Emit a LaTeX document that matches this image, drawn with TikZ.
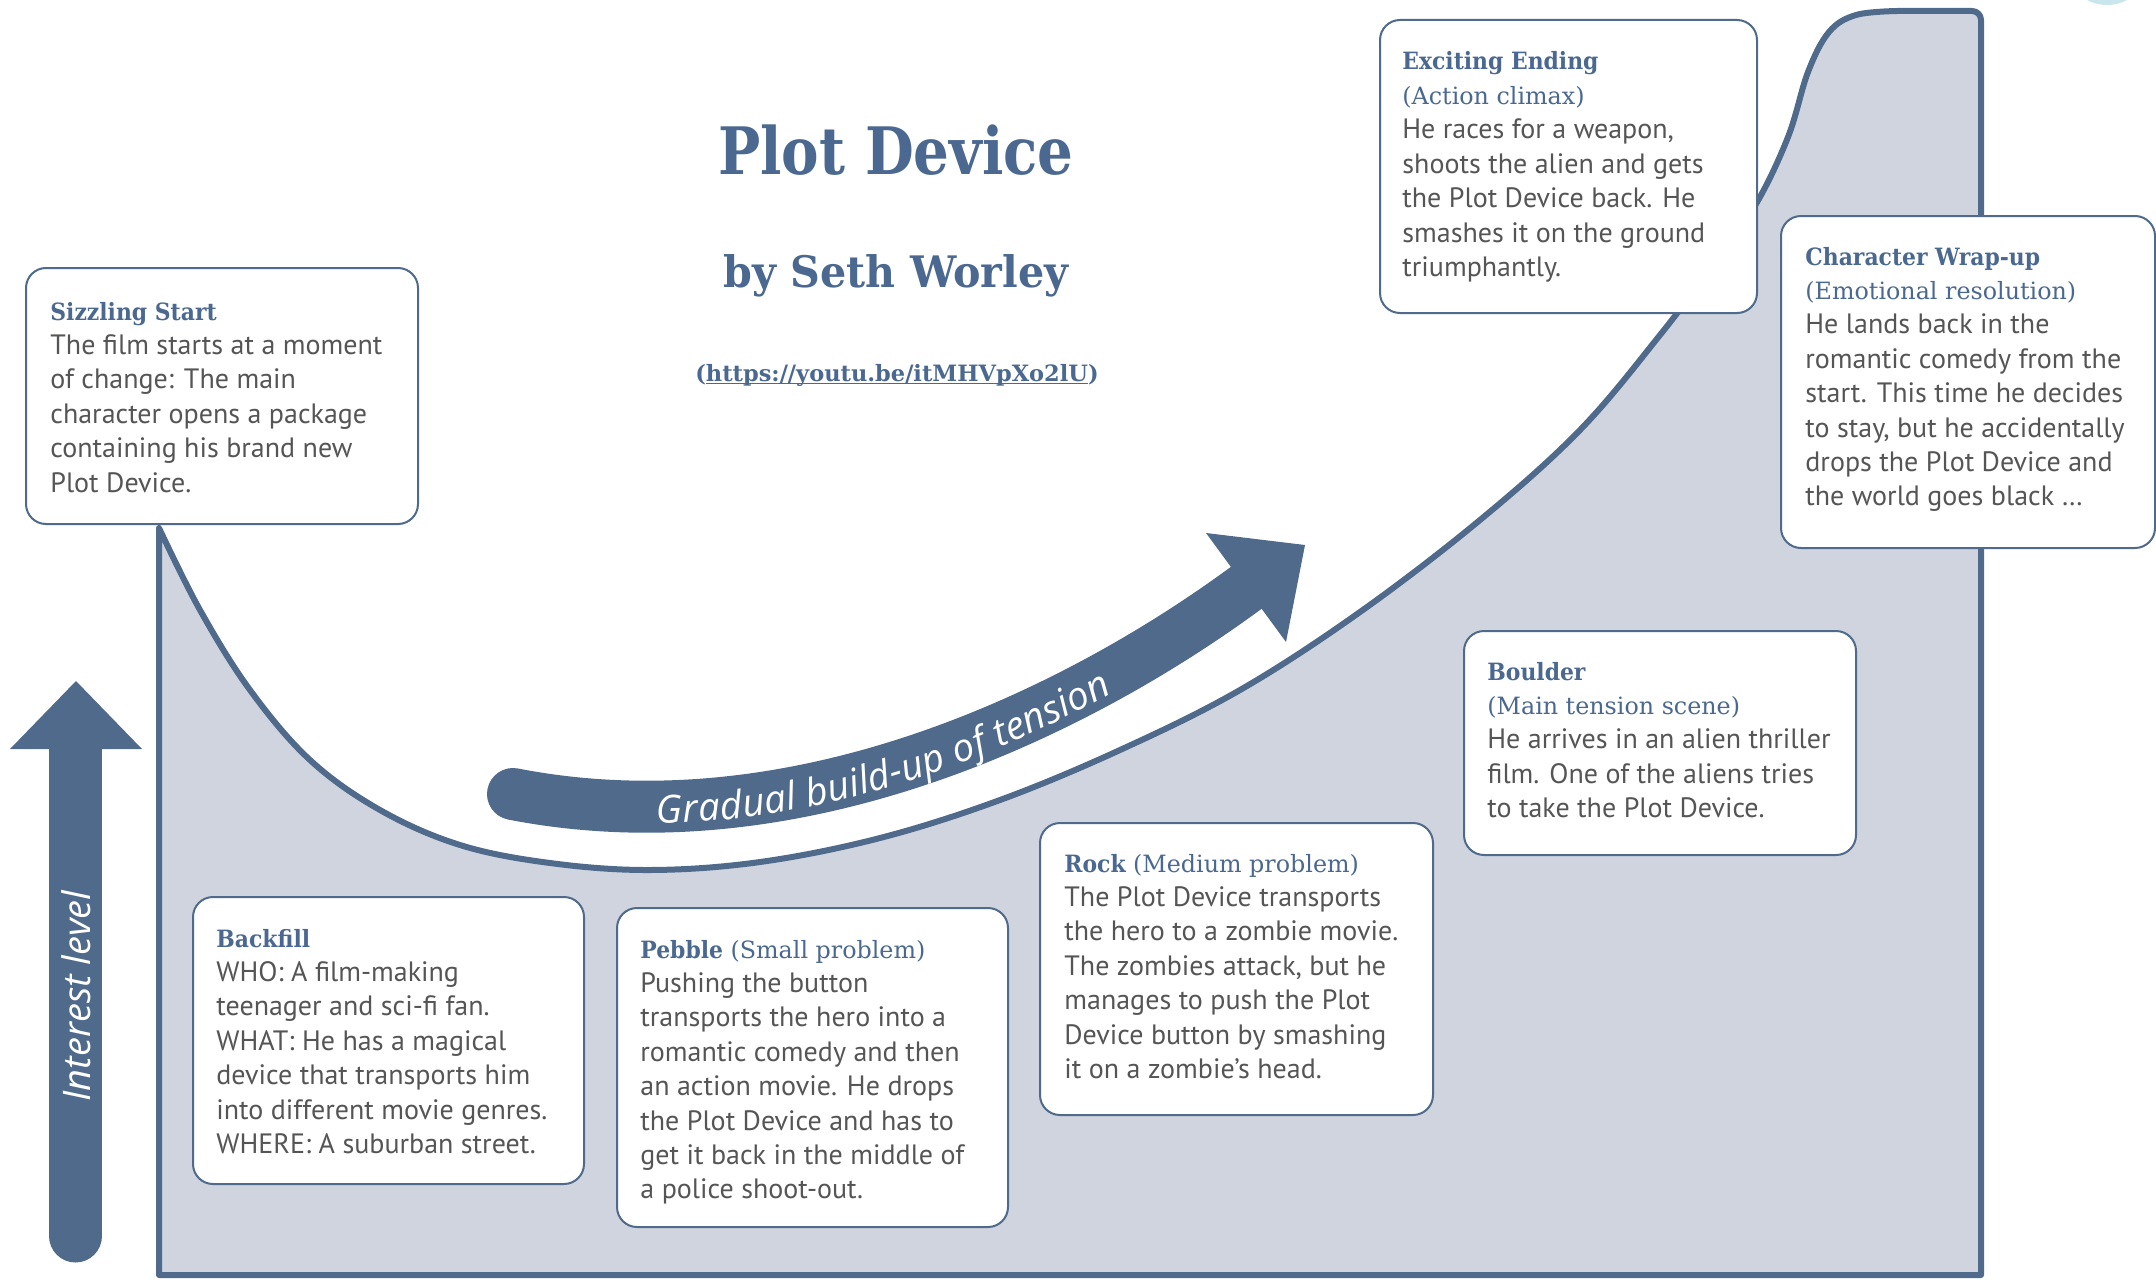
\documentclass[tikz,border=0pt]{standalone}
\usepackage{fontspec}
\setmainfont{PT Sans}
\newfontfamily\slab[FakeStretch=0.92]{DejaVu Serif}
\newfontfamily\slabr{DejaVu Serif}
\newfontfamily\slabt[FakeStretch=0.86]{DejaVu Serif}
\newfontfamily\slaba[FakeStretch=0.95]{DejaVu Serif}
\newfontfamily\oitalic{Open Sans}
\usetikzlibrary{decorations.text}
\definecolor{dblue}{RGB}{79,106,138}
\definecolor{areafill}{RGB}{207,212,223}
\definecolor{headc}{RGB}{74,104,144}
\definecolor{bodyc}{RGB}{85,85,85}
\definecolor{circc}{RGB}{200,230,236}
\newcommand{\hd}[1]{{\slab\bfseries\fontsize{11.9}{17.2}\selectfont\color{headc}#1}}
\newcommand{\subhd}[1]{{\slabr\fontsize{11.9}{17.2}\selectfont\color{headc}#1}}
\newcommand{\cardtext}[1]{\parbox[t]{200pt}{\fontsize{14}{17.2}\selectfont\leavevmode#1}}
\newcommand{\gradfont}{\oitalic\itshape\fontsize{19.3}{21}\selectfont}
\newcommand{\myul}[1]{\setbox0\hbox{#1}\rlap{\rule[-1.4pt]{\wd0}{0.6pt}}\box0}
\tikzset{
  card/.style={draw=dblue, line width=1pt, fill=white, rounded corners=10pt, anchor=north west, inner sep=0pt},
  cardtxt/.style={anchor=base west, inner sep=0pt, text=bodyc},
  ttl/.style={anchor=base, inner sep=0pt, text=headc},
}
\begin{document}
\begin{tikzpicture}[x=0.5pt, y=-0.5pt]
\useasboundingbox (0,0) rectangle (2156,1279);
% light circle top right
\fill[circc] (2107,-37.5) circle (21.25pt);
% main area
\path[fill=areafill, draw=dblue, line width=3pt, line join=round]
  (159,1275) -- (159,528) -- plot[smooth, tension=0.6] coordinates {
  (159,528) (200,610) (250,690) (310,760) (380,810) (460,845) (550,863) (650,870)
  (760,862) (880,838) (1000,800) (1120,750) (1240,690) (1360,612) (1480,520)
  (1580,430) (1660,335) (1715,262) (1756,204) (1788,137) (1808,72) (1829,32) (1856,15) (1897,11)}
  -- (1972,11) to[out=0,in=90] (1981,20) -- (1981,1275) -- cycle;
% interest level arrow
\coordinate (ibot) at (75.5,1236);
\coordinate (itop) at (75.5,749);
\coordinate (ihl) at (10,749);
\coordinate (iht) at (76,681);
\coordinate (ihr) at (142,749);
\draw[dblue, line width=26.5pt, line cap=round] (ibot) -- (itop);
\fill[dblue] (ihl) -- (iht) -- (ihr) -- cycle;
\node[rotate=90, text=white, inner sep=0pt] (ilabel) at (76,996) {\oitalic\itshape\fontsize{19}{21}\selectfont Interest level};
% gradual arrow
\coordinate (gtail) at (513,794);
\coordinate (gc1) at (800,850);
\coordinate (gc2) at (1080,710);
\coordinate (gbase) at (1246,588);
\coordinate (gb1) at (1206,533);
\coordinate (gtip) at (1305,545);
\coordinate (gb2) at (1286,642);
\draw[dblue, line width=26pt, line cap=round] (gtail) .. controls (gc1) and (gc2) .. (gbase);
\fill[dblue] (gb1) -- (gtip) -- (gb2) -- cycle;
\path[decorate, decoration={text along path, text={|\gradfont|Gradual build-up of tension}, text align=center, text color=white, raise=-8.5pt, post length=12pt}]
  (gtail) .. controls (gc1) and (gc2) .. (gbase);
% title
\node[ttl] (title) at (896,174) {\slabt\bfseries\fontsize{32.7}{36}\selectfont Plot Device};
\node[ttl] (author) at (896,287) {\slaba\bfseries\fontsize{21.7}{26}\selectfont by Seth Worley};
\node[ttl] (url) at (897,381) {\slabr\bfseries\fontsize{11.25}{14}\selectfont(\myul{https://youtu.be/itMHVpXo2lU})};
% cards
\node[card, minimum width=196pt, minimum height=128pt] (sizz) at (25,267) {};
\node[cardtxt] (sizztxt) at (50,320) {\cardtext{\hd{Sizzling Start}\\
The film starts at a moment\\
of change: The main\\
character opens a package\\
containing his brand new\\
Plot Device.}};
\node[card, minimum width=188.5pt, minimum height=146.5pt] (exc) at (1379,19) {};
\node[cardtxt] (exctxt) at (1402,70) {\cardtext{\hd{Exciting Ending}\\
\subhd{(Action climax)}\\
He races for a weapon,\\
shoots the alien and gets\\
the Plot Device back. He\\
smashes it on the ground\\
triumphantly.}};
\node[card, minimum width=187pt, minimum height=166pt] (wrap) at (1780,215) {};
\node[cardtxt] (wraptxt) at (1805,265) {\cardtext{\hd{Character Wrap-up}\\
\subhd{(Emotional resolution)}\\
He lands back in the\\
romantic comedy from the\\
start. This time he decides\\
to stay, but he accidentally\\
drops the Plot Device and\\
the world goes black …}};
\node[card, minimum width=196pt, minimum height=112pt] (boulder) at (1463,630) {};
\node[cardtxt] (bouldertxt) at (1487,680) {\cardtext{\hd{Boulder}\\
\subhd{(Main tension scene)}\\
He arrives in an alien thriller\\
film. One of the aliens tries\\
to take the Plot Device.}};
\node[card, minimum width=196.5pt, minimum height=146pt] (rock) at (1039,822) {};
\node[cardtxt] (rocktxt) at (1064,872) {\cardtext{\hd{Rock} \subhd{(Medium problem)}\\
The Plot Device transports\\
the hero to a zombie movie.\\
The zombies attack, but he\\
manages to push the Plot\\
Device button by smashing\\
it on a zombie’s head.}};
\node[card, minimum width=195.5pt, minimum height=159.5pt] (pebble) at (616,907) {};
\node[cardtxt] (pebbletxt) at (640,958) {\cardtext{\hd{Pebble} \subhd{(Small problem)}\\
Pushing the button\\
transports the hero into a\\
romantic comedy and then\\
an action movie. He drops\\
the Plot Device and has to\\
get it back in the middle of\\
a police shoot-out.}};
\node[card, minimum width=195.5pt, minimum height=143.5pt] (backfill) at (192,896) {};
\node[cardtxt] (backfilltxt) at (216,947) {\cardtext{\hd{Backfill}\\
WHO: A film-making\\
teenager and sci-fi fan.\\
WHAT: He has a magical\\
device that transports him\\
into different movie genres.\\
WHERE: A suburban street.}};
\end{tikzpicture}
\end{document}
